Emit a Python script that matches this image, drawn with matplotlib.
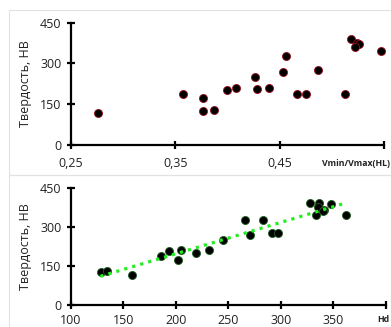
import numpy as np
import matplotlib
matplotlib.use('Agg')
import matplotlib.pyplot as plt
from matplotlib.patches import Rectangle

plt.rcParams['font.family'] = ['Open Sans', 'DejaVu Sans']

# top chart: hardness vs Vmin/Vmax(HL)
ratio = [0.276, 0.357, 0.377, 0.377, 0.387, 0.400, 0.408, 0.426, 0.428, 0.4395,
         0.4535, 0.456, 0.467, 0.475, 0.487, 0.513, 0.518, 0.524, 0.526, 0.5226, 0.5475]
hb_top = [117, 188, 172, 126, 130, 201, 208, 249, 206, 208,
          270, 326, 188, 188, 277, 188, 390, 376, 370, 361, 345]

# bottom chart: hardness vs Hd
hd = [129, 134, 158, 186, 193, 202, 205, 219, 232, 244.5,
      266, 271, 283.5, 292, 297, 327.5, 336, 335, 334, 341, 340, 348, 362]
hb_bot = [126, 131, 116, 187, 207, 171, 210, 200, 210, 250,
          327, 270, 327, 278, 278, 391, 391, 376, 347, 366, 360, 388, 347]

ylabel = 'Твердость, НВ'
yticks = [0, 150, 300, 450]

W, H = 391, 327
fig = plt.figure(figsize=(W / 100, H / 100), dpi=100)

# light chart-area frames
fig.patches.append(Rectangle((9 / W, (H - 175) / H), 1, 165 / H, transform=fig.transFigure,
                             fill=False, edgecolor='#e2e2e2', linewidth=0.8))
fig.patches.append(Rectangle((9 / W, -0.1), 1, (H - 175) / H + 0.1, transform=fig.transFigure,
                             fill=False, edgecolor='#e2e2e2', linewidth=0.8))


def style_axes(ax, xbound, xpad):
    for s in ['top', 'right']:
        ax.spines[s].set_visible(False)
    for s in ['left', 'bottom']:
        ax.spines[s].set_linewidth(1.6)
        ax.spines[s].set_color('black')
    ax.spines['bottom'].set_bounds(*xbound)
    ax.tick_params(direction='inout', length=6, width=1.6, labelsize=9,
                   labelcolor='#222222')
    ax.tick_params(axis='y', pad=4)
    ax.tick_params(axis='x', pad=xpad)
    ax.set_ylim(0, 450)
    ax.set_yticks(yticks)
    ax.set_ylabel(ylabel, fontsize=9, color='#222222')
    ax.yaxis.set_label_coords(-0.122, 0.5)
    ax.patch.set_alpha(0)


ax1 = fig.add_axes([71 / W, (H - 145) / H, 320 / W, 122.3 / H])
ax1.plot(ratio, hb_top, 'o', color='black', markeredgecolor='#9a1020',
         markeredgewidth=0.6, markersize=5.8, clip_on=False)
ax1.set_xlim(0.25, 0.25 + 320 / 1043)
ax1.set_xticks([0.25, 0.35, 0.45, 0.55])
ax1.set_xticklabels(['0,25', '0,35', '0,45', ''])
style_axes(ax1, (0.25, 0.55), 5.5)

ax2 = fig.add_axes([71 / W, (H - 304.7) / H, 320 / W, 116.7 / H])
ax2.plot(hd, hb_bot, 'o', color='black', markeredgecolor='#1f5f1f',
         markeredgewidth=0.6, markersize=5.8, clip_on=False, zorder=2)
k, b = np.polyfit(hd, hb_bot, 1)
xs = np.array([min(hd) - 1, max(hd) - 2])
ax2.plot(xs, k * xs + b, color='#22ee22', linewidth=2.3,
         linestyle=(0, (1, 1.6)), zorder=3)
ax2.set_xlim(100, 100 + 320 / 1.049)
ax2.set_xticks([100, 150, 200, 250, 300, 350, 400])
ax2.set_xticklabels(['100', '150', '200', '250', '300', '350', ''])
style_axes(ax2, (100, 400), 3.5)

fig.text(322 / W, (H - 164) / H, 'Vmin/Vmax(HL)', fontsize=6.3, fontweight='bold',
         color='#222222', va='center', ha='left')
fig.text(377 / W, (H - 320) / H, 'Hd', fontsize=6.3, fontweight='bold',
         color='#222222', va='center', ha='left')

fig.savefig('out.png', dpi=100)
